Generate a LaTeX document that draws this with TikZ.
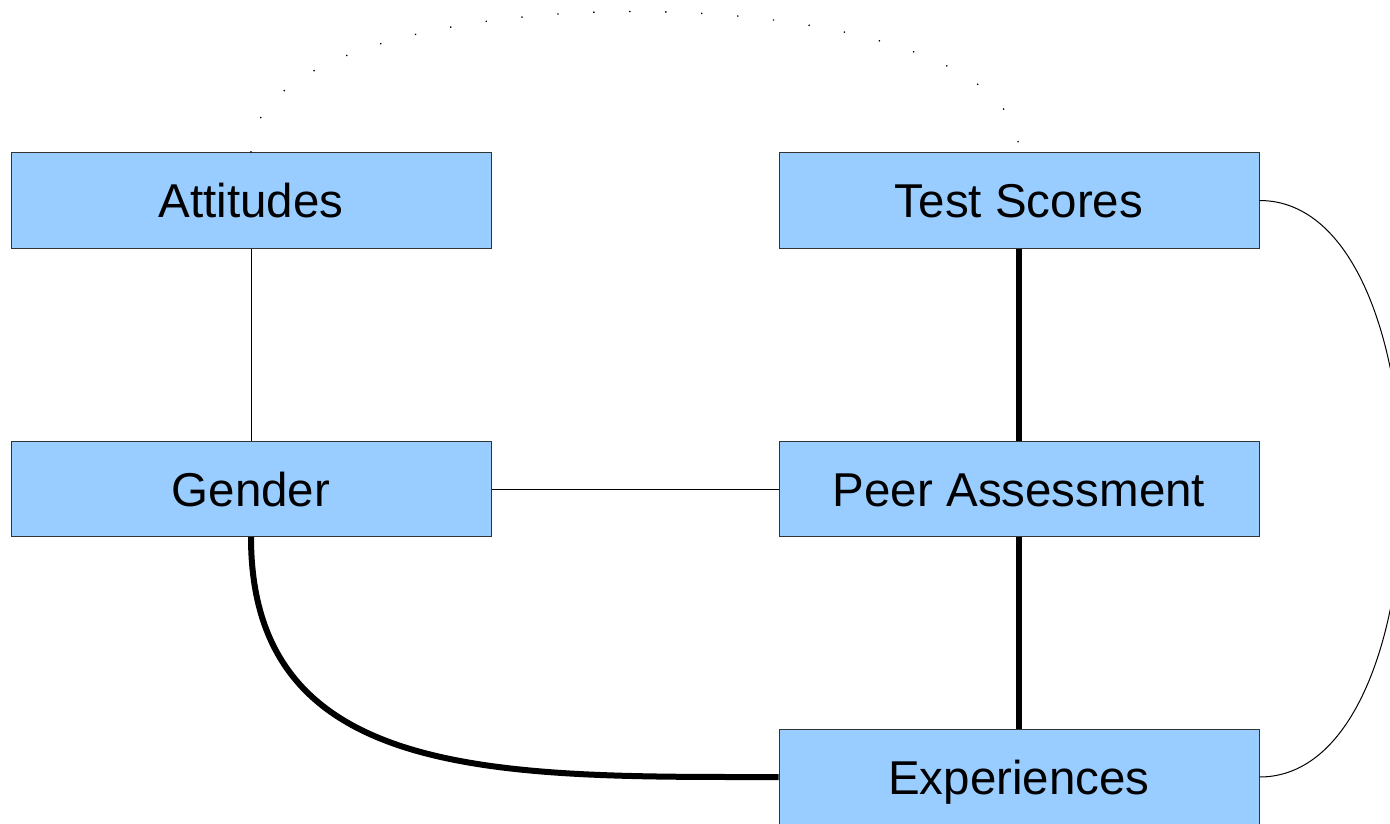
\documentclass[tikz,border=0pt]{standalone}
\usepackage{fontspec}
\setmainfont{Liberation Sans}
\definecolor{boxfill}{HTML}{99CCFF}
\definecolor{boxline}{HTML}{333333}
\tikzset{
  varbox/.style={draw=boxline, line width=1pt, fill=boxfill, minimum width=480pt, minimum height=95pt, inner sep=0pt, font=\fontsize{47.5}{52}\selectfont, text height=34pt, text depth=0pt},
  thin link/.style={line width=1pt, draw=black},
  thick link/.style={line width=6pt, draw=black},
  dot link/.style={line width=1.3pt, draw=black, dash pattern=on 1.3pt off 34.7pt}
}
\begin{document}
\begin{tikzpicture}[x=1pt,y=-1pt]
\clip (0,0) rectangle (1390,824);
\fill[white] (0,0) rectangle (1390,824);
\node[varbox] (att) at (251,200.5) {Attitudes};
\node[varbox] (test) at (1019,200.5) {Test Scores};
\node[varbox] (gen) at (251,489) {Gender};
\node[varbox] (peer) at (1019,489) {Peer Assessment};
\node[varbox] (exp) at (1019,777) {Experiences};
\draw[thin link] (att.south) -- (gen.north);
\draw[thin link] (gen.east) -- (peer.west);
\draw[thick link] (test.south) -- (peer.north);
\draw[thick link] (peer.south) -- (exp.north);
\draw[thick link] (gen.south) .. controls ++(0,245) and ++(-280,0) .. (exp.west);
\draw[thin link] (test.east) .. controls ++(190,0) and ++(190,0) .. (exp.east);
\draw[dot link] (att.north) .. controls ++(0,-188) and ++(0,-188) .. (test.north);
\end{tikzpicture}
\end{document}
